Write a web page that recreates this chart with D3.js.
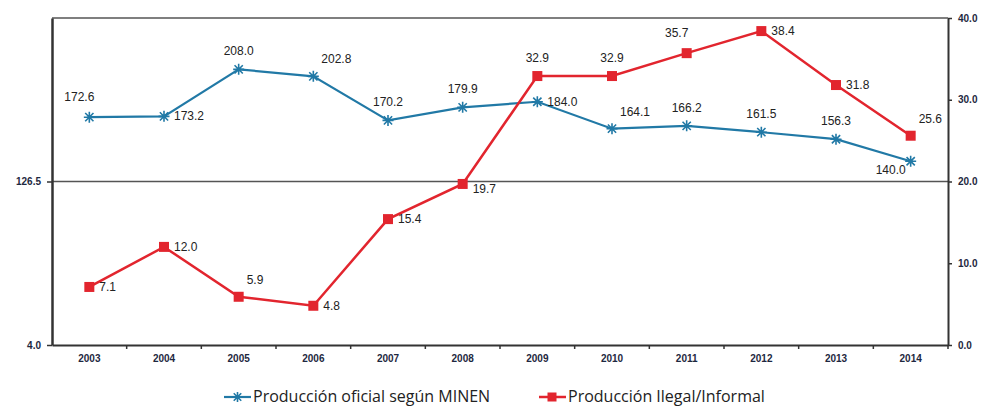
<!DOCTYPE html>
<html><head><meta charset="utf-8">
<script src="https://cdn.jsdelivr.net/npm/d3@7"></script>
<style>body{margin:0;background:#fff}svg{display:block}</style>
</head><body><svg id="c" width="985" height="407"></svg>
<script>
const years = ["2003","2004","2005","2006","2007","2008","2009","2010","2011","2012","2013","2014"];
const oficial = [172.6,173.2,208.0,202.8,170.2,179.9,184.0,164.1,166.2,161.5,156.3,140.0];
const ilegal = [7.1,12.0,5.9,4.8,15.4,19.7,32.9,32.9,35.7,38.4,31.8,25.6];
const leftTicks = [4.0,126.5];
const rightTicks = [0,10,20,30,40];
const seriesNames = ["Producción oficial según MINEN","Producción Ilegal/Informal"];
// label placement (layout only)
const posOf = ["al","r","a","ar","a","a","r","ar","a","a","a","bl"];
const posIl = ["r","r","ar","r","r","rb","a","a","al","r","r","ar"];

const svg = d3.select("#c");
const L=52,R=948,T=18,B=345;
const blue="#2179a6", red="#e2252e";
const x = d3.scaleBand().domain(years).range([L,R]);
const yL = d3.scaleLinear().domain([4,246]).range([B,T]);
const yR = d3.scaleLinear().domain([0,40]).range([B,T]);

// frame lines
svg.append("line").attr("x1",L).attr("x2",R).attr("y1",T).attr("y2",T).attr("stroke","#555").attr("stroke-width",1.5);
svg.append("line").attr("x1",L).attr("x2",R).attr("y1",yR(20)).attr("y2",yR(20)).attr("stroke","#555").attr("stroke-width",1.5);

// axes
const ax = svg.append("g").attr("transform",`translate(0,${B})`)
  .call(d3.axisBottom(x).tickSize(0).tickPadding(10));
ax.select(".domain").attr("stroke","#333").attr("stroke-width",2);
ax.selectAll("text").attr("font-family","Liberation Sans, Arial").attr("font-size",10).attr("font-weight","bold").attr("fill","#1e2840");
ax.selectAll(".bt").data(years.slice(1).concat(["end"])).enter().append("line")
  .attr("x1",(d,i)=>L+x.step()*(i+1)).attr("x2",(d,i)=>L+x.step()*(i+1)).attr("y1",0).attr("y2",4).attr("stroke","#333").attr("stroke-width",1.5);

const al = svg.append("g").attr("transform",`translate(${L},0)`)
  .call(d3.axisLeft(yR).tickValues([0,20]).tickFormat((d,i)=>d3.format(".1f")(leftTicks[i])).tickSize(5).tickSizeOuter(0).tickPadding(6));
al.select(".domain").attr("stroke","#333").attr("stroke-width",2.5);
al.selectAll(".tick line").attr("stroke","#333").attr("stroke-width",1.5);
al.selectAll("text").attr("font-family","Liberation Sans, Arial").attr("font-size",10).attr("font-weight","bold").attr("fill","#1e2840");

const ar = svg.append("g").attr("transform",`translate(${R},0)`)
  .call(d3.axisRight(yR).tickValues(rightTicks).tickFormat(d3.format(".1f")).tickSize(4).tickSizeOuter(0).tickPadding(6));
ar.select(".domain").attr("stroke","#333").attr("stroke-width",2);
ar.selectAll(".tick line").attr("stroke","#333").attr("stroke-width",1.5);
ar.selectAll("text").attr("font-family","Liberation Sans, Arial").attr("font-size",10).attr("font-weight","bold").attr("fill","#1e2840");

const cx = d => x(d)+x.bandwidth()/2;

// lines
const lineOf = d3.line().x((d,i)=>cx(years[i])).y(d=>yL(d));
const lineIl = d3.line().x((d,i)=>cx(years[i])).y(d=>yR(d));
svg.append("path").datum(oficial).attr("d",lineOf).attr("fill","none").attr("stroke",blue).attr("stroke-width",2.2);
svg.append("path").datum(ilegal).attr("d",lineIl).attr("fill","none").attr("stroke",red).attr("stroke-width",2.5);

function star(g,px,py,s){
  const p=`M${px-s},${py}L${px+s},${py}M${px},${py-s}L${px},${py+s}M${px-s*0.75},${py-s*0.75}L${px+s*0.75},${py+s*0.75}M${px-s*0.75},${py+s*0.75}L${px+s*0.75},${py-s*0.75}`;
  g.append("path").attr("d",p).attr("stroke",blue).attr("stroke-width",1.6).attr("fill","none");
}
oficial.forEach((v,i)=>star(svg,cx(years[i]),yL(v),5.5));
svg.selectAll(".sq").data(ilegal).enter().append("rect")
  .attr("x",(d,i)=>cx(years[i])-5).attr("y",d=>yR(d)-5).attr("width",10).attr("height",10).attr("fill",red);

const off = {a:[0,-14,"middle"],al:[-10,-16,"middle"],ar:[8,-13,"start"],r:[10,4,"start"],rb:[10,9,"start"],bl:[-20,13,"middle"]};
function labels(vals,pos,ys){
  vals.forEach((v,i)=>{
    const o=off[pos[i]];
    svg.append("text").attr("x",cx(years[i])+o[0]).attr("y",ys(v)+o[1]).attr("text-anchor",o[2])
      .attr("font-family","Liberation Sans, Arial").attr("font-size",12).attr("fill","#222").text(d3.format(".1f")(v));
  });
}
labels(oficial,posOf,yL);
labels(ilegal,posIl,yR);

// legend
const lg = svg.append("g");
lg.append("line").attr("x1",224).attr("x2",251).attr("y1",397).attr("y2",397).attr("stroke",blue).attr("stroke-width",2.2);
star(lg,237.5,397,5);
lg.append("text").attr("x",253).attr("y",402).attr("font-family","Open Sans").attr("font-size",16).attr("fill","#222").text(seriesNames[0]);
lg.append("line").attr("x1",539).attr("x2",566).attr("y1",397).attr("y2",397).attr("stroke",red).attr("stroke-width",2.5);
lg.append("rect").attr("x",547.5).attr("y",392.5).attr("width",9).attr("height",9).attr("fill",red);
lg.append("text").attr("x",568).attr("y",402).attr("font-family","Open Sans").attr("font-size",16).attr("fill","#222").text(seriesNames[1]);
</script></body></html>
